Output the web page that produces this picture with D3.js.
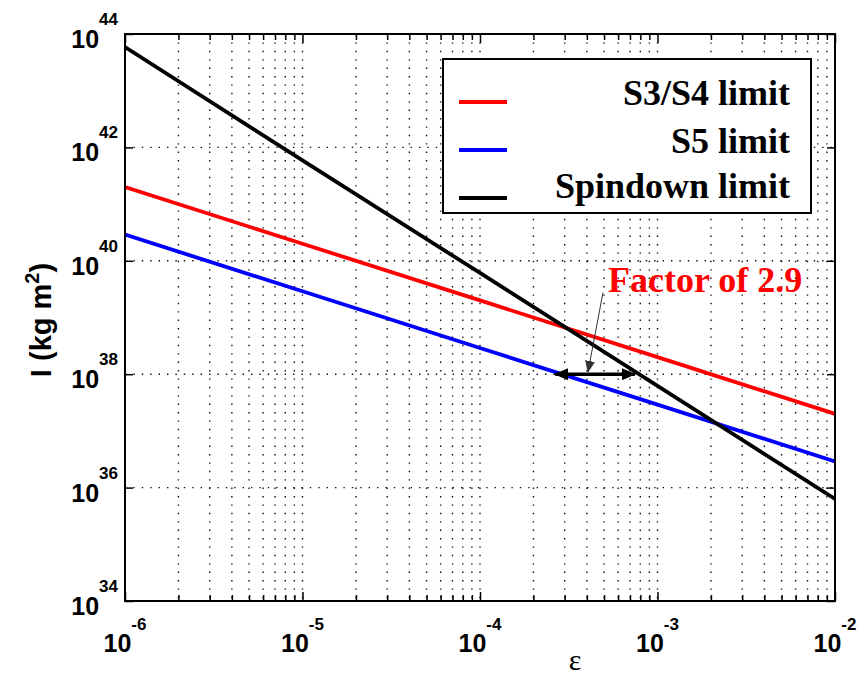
<!DOCTYPE html>
<html>
<head>
<meta charset="utf-8">
<script src="https://cdn.jsdelivr.net/npm/d3@7"></script>
<style>
  html, body { margin: 0; padding: 0; background: #fff; }
  svg { display: block; }
</style>
</head>
<body>
<svg id="chart" width="857" height="680"></svg>
<script>
// ---------------- data ----------------
const epsilon       = [1e-6, 1e-5, 1e-4, 1e-3, 1e-2];
const s3s4Limit     = [2.0e41, 2.0e40, 2.0e39, 2.0e38, 2.0e37];
const s5Limit       = [2.9e40, 2.9e39, 2.9e38, 2.9e37, 2.9e36];
const spindownLimit = [5.9e43, 5.9e41, 6.1e39, 6.2e37, 6.3e35];

const seriesNames  = ["S3/S4 limit", "S5 limit", "Spindown limit"];
const seriesColors = ["#ff0000", "#0000ff", "#000000"];

const xTickValues = [1e-6, 1e-5, 1e-4, 1e-3, 1e-2];
const xTickExps   = ["-6", "-5", "-4", "-3", "-2"];
const yTickValues = [1e34, 1e36, 1e38, 1e40, 1e42, 1e44];
const yTickExps   = ["34", "36", "38", "40", "42", "44"];

// "Factor of 2.9" annotation
const factorArrowEps = [2.65e-4, 7.46e-4];
const factorArrowI   = 1e38;
const pointerEps     = [4.93e-4, 4.06e-4];
const pointerI       = [2.75e39, 1.1e38];
const factorText     = "Factor of 2.9";
const factorTextEps  = 5.26e-4;
const factorTextI    = 2.8e39;

// ---------------- layout ----------------
const L = 125, R = 835, T = 34, B = 601;
const svg = d3.select("#chart");
const x = d3.scaleLog().domain([1e-6, 1e-2]).range([L, R]);
const y = d3.scaleLog().domain([1e34, 1e44]).range([B, T]);

const tickFont = "'Liberation Sans', Arial, Helvetica, sans-serif";
const serif = "'Liberation Serif', 'Times New Roman', Times, serif";

// grid
const minorX = [];
for (let e = -6; e < -2; e++) for (let m = 1; m <= 9; m++) minorX.push(m * Math.pow(10, e));
minorX.push(1e-2);

const grid = svg.append("g");
grid.selectAll("line.vx").data(minorX.filter(v => v > 1e-6 && v < 1e-2)).join("line")
  .attr("x1", d => x(d)).attr("x2", d => x(d)).attr("y1", T).attr("y2", B)
  .attr("stroke", "#111").attr("stroke-width", 1.4).attr("stroke-dasharray", "1.4,7");
grid.selectAll("line.hy").data(yTickValues.filter(v => v > 1e34 && v < 1e44)).join("line")
  .attr("x1", L).attr("x2", R).attr("y1", d => y(d)).attr("y2", d => y(d))
  .attr("stroke", "#111").attr("stroke-width", 1.4).attr("stroke-dasharray", "1.4,7");

// axes (box with inward ticks)
const minorOnly = minorX.filter(v => xTickValues.indexOf(v) < 0);
function styleAxis(g) {
  g.select(".domain").remove();
  g.selectAll(".tick line").attr("stroke", "#000").attr("stroke-width", 1.5);
  g.selectAll(".tick text").remove();
}
svg.append("g").attr("transform", `translate(0,${B})`)
  .call(d3.axisBottom(x).tickValues(xTickValues).tickSize(-9).tickFormat("")).call(styleAxis);
svg.append("g").attr("transform", `translate(0,${B})`)
  .call(d3.axisBottom(x).tickValues(minorOnly).tickSize(-6).tickFormat("")).call(styleAxis);
svg.append("g").attr("transform", `translate(0,${T})`)
  .call(d3.axisTop(x).tickValues(xTickValues).tickSize(-9).tickFormat("")).call(styleAxis);
svg.append("g").attr("transform", `translate(0,${T})`)
  .call(d3.axisTop(x).tickValues(minorOnly).tickSize(-6).tickFormat("")).call(styleAxis);
svg.append("g").attr("transform", `translate(${L},0)`)
  .call(d3.axisLeft(y).tickValues(yTickValues).tickSize(-8).tickFormat("")).call(styleAxis);
svg.append("g").attr("transform", `translate(${R},0)`)
  .call(d3.axisRight(y).tickValues(yTickValues).tickSize(-8).tickFormat("")).call(styleAxis);

// data lines
const allSeries = [s3s4Limit, s5Limit, spindownLimit];
const lineGen = d3.line().x((d, i) => x(epsilon[i])).y(d => y(d));
const clipId = "plotclip";
svg.append("clipPath").attr("id", clipId).append("rect")
  .attr("x", L).attr("y", T).attr("width", R - L).attr("height", B - T);
svg.append("g").attr("clip-path", `url(#${clipId})`)
  .selectAll("path").data(allSeries).join("path")
  .attr("d", d => lineGen(d))
  .attr("fill", "none")
  .attr("stroke", (d, i) => seriesColors[i])
  .attr("stroke-width", 3.8);

// box
svg.append("rect").attr("x", L).attr("y", T).attr("width", R - L).attr("height", B - T)
  .attr("fill", "none").attr("stroke", "#000").attr("stroke-width", 2);

// tick labels
const yl = svg.append("g").attr("font-family", tickFont).attr("font-weight", "bold").attr("fill", "#000");
yTickValues.forEach((v, i) => {
  const t = yl.append("text").attr("x", L - 7).attr("y", y(v) + 14).attr("text-anchor", "end");
  t.append("tspan").attr("font-size", 25).text("10");
  t.append("tspan").attr("font-size", 17).attr("dy", -23).text(yTickExps[i]);
});
const xl = svg.append("g").attr("font-family", tickFont).attr("font-weight", "bold").attr("fill", "#000");
xTickValues.forEach((v, i) => {
  const t = xl.append("text").attr("x", x(v)).attr("y", B + 51).attr("text-anchor", "middle");
  t.append("tspan").attr("font-size", 25).text("10");
  t.append("tspan").attr("font-size", 17).attr("dy", -22).text(xTickExps[i]);
});

// axis titles
const yt = svg.append("text")
  .attr("transform", "translate(51,320) rotate(-90)")
  .attr("text-anchor", "middle")
  .attr("font-family", tickFont).attr("font-weight", "bold").attr("font-size", 29);
yt.append("tspan").text("I (kg m");
yt.append("tspan").attr("font-size", 20).attr("dy", -12).text("2");
yt.append("tspan").attr("dy", 12).text(")");

svg.append("text").attr("x", 575).attr("y", 670).attr("text-anchor", "middle")
  .attr("font-family", serif).attr("font-size", 30).text("ε");

// legend
const lg = svg.append("g");
lg.append("rect").attr("x", 443).attr("y", 59).attr("width", 368).attr("height", 154)
  .attr("fill", "#fff").attr("stroke", "#000").attr("stroke-width", 2);
const legendLineY = [102, 150, 198];
const legendTextY = [105, 153, 198];
seriesNames.forEach((name, i) => {
  lg.append("line").attr("x1", 459).attr("x2", 507)
    .attr("y1", legendLineY[i]).attr("y2", legendLineY[i])
    .attr("stroke", seriesColors[i]).attr("stroke-width", 4);
  lg.append("text").attr("x", 790).attr("y", legendTextY[i]).attr("text-anchor", "end")
    .attr("font-family", serif).attr("font-weight", "bold").attr("font-size", 36)
    .text(name);
});

// annotation: double arrow
const defs = svg.append("defs");
defs.append("marker").attr("id", "headEnd").attr("markerUnits", "userSpaceOnUse")
  .attr("viewBox", "0 0 14 12").attr("refX", 13).attr("refY", 6)
  .attr("markerWidth", 14).attr("markerHeight", 12).attr("orient", "auto")
  .append("path").attr("d", "M0,0 L14,6 L0,12 Z").attr("fill", "#000");
defs.append("marker").attr("id", "headStart").attr("markerUnits", "userSpaceOnUse")
  .attr("viewBox", "0 0 14 12").attr("refX", 1).attr("refY", 6)
  .attr("markerWidth", 14).attr("markerHeight", 12).attr("orient", "auto")
  .append("path").attr("d", "M14,0 L0,6 L14,12 Z").attr("fill", "#000");
defs.append("marker").attr("id", "pointerHead").attr("markerUnits", "userSpaceOnUse")
  .attr("viewBox", "0 0 12 10").attr("refX", 11).attr("refY", 5)
  .attr("markerWidth", 12).attr("markerHeight", 10).attr("orient", "auto")
  .append("path").attr("d", "M0,0 L12,5 L0,10 Z").attr("fill", "#333");

svg.append("line")
  .attr("x1", x(factorArrowEps[0])).attr("x2", x(factorArrowEps[1]))
  .attr("y1", y(factorArrowI)).attr("y2", y(factorArrowI))
  .attr("stroke", "#000").attr("stroke-width", 3.5)
  .attr("marker-start", "url(#headStart)").attr("marker-end", "url(#headEnd)");

svg.append("line")
  .attr("x1", x(pointerEps[0])).attr("y1", y(pointerI[0]))
  .attr("x2", x(pointerEps[1])).attr("y2", y(pointerI[1]))
  .attr("stroke", "#333").attr("stroke-width", 1)
  .attr("marker-end", "url(#pointerHead)");

svg.append("text").attr("x", x(factorTextEps)).attr("y", y(factorTextI))
  .attr("font-family", serif).attr("font-weight", "bold").attr("font-size", 36)
  .attr("fill", "#ff0000").text(factorText);
</script>
</body>
</html>
